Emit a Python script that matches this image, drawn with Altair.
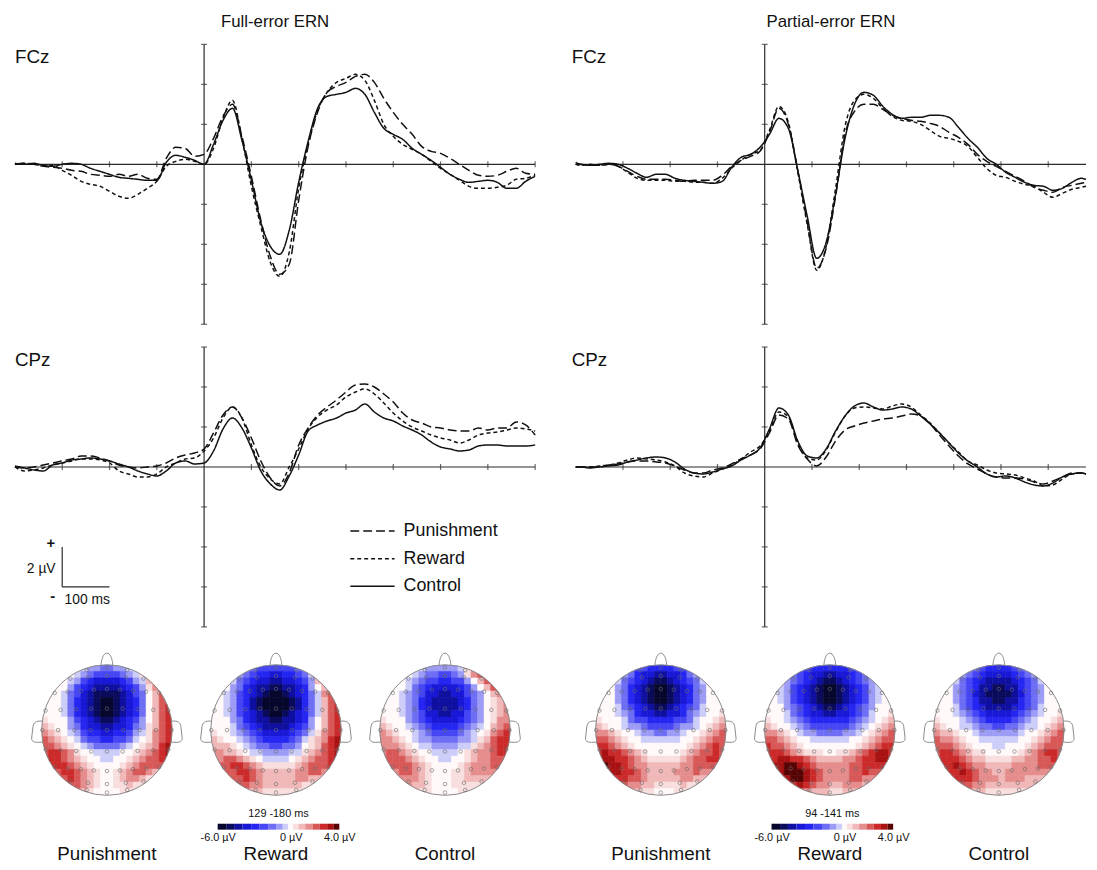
import math
import altair as alt
import pandas as pd

FONT = "Liberation Sans, Arial, Helvetica, sans-serif"
INK = "#111111"
AXIS_INK = "#2a2a2a"

CONDITIONS = ["Punishment", "Reward", "Control"]
DASHES = [[9, 4], [4, 3], [1, 0]]

# ---------------- ERP waveforms (µV) ----------------
t_full = list(range(-400, 701, 20))
t_part = [-400] + list(range(-390, 671, 20)) + [680]

fcz_full_pun = [0.0, 0.05, 0.0, -0.1, -0.15, -0.2, -0.3, -0.35, -0.5, -0.55, -0.6, -0.5, -0.6, -0.5, -0.7, -0.75,
                0.3, 0.85, 0.8, 0.4, 0.5, 1.3, 2.4, 3.0, 1.4, -0.6, -2.8, -4.6, -5.5, -5.0, -1.8, 0.9, 2.6, 3.6,
                3.9, 4.1, 4.4, 4.5, 4.1, 3.3, 2.6, 2.0, 1.5, 0.9, 0.65, 0.55, 0.3, 0.0, -0.3, -0.55, -0.6, -0.55,
                -0.35, -0.2, -0.45, -0.5]
fcz_full_rew = [0.0, 0.05, 0.0, -0.05, -0.05, -0.3, -0.55, -0.85, -1.0, -1.1, -1.35, -1.6, -1.7, -1.5, -1.2, -0.85,
                -0.1, 0.15, 0.25, 0.15, 0.0, 0.8, 2.3, 3.2, 1.3, -1.1, -3.1, -4.9, -5.6, -4.4, -1.2, 1.0, 2.7, 3.6,
                4.1, 4.3, 4.5, 4.2, 3.2, 2.0, 1.4, 1.0, 0.75, 0.5, 0.15, -0.2, -0.5, -0.8, -1.1, -1.2, -1.2, -1.15,
                -1.05, -0.75, -0.7, -0.55]
fcz_full_ctl = [0.05, 0.0, 0.05, -0.05, -0.1, 0.0, 0.05, 0.0, -0.2, -0.35, -0.5, -0.65, -0.7, -0.75, -0.8, -0.8,
                0.1, 0.45, 0.35, 0.2, 0.0, 1.0, 2.2, 2.8, 1.2, -0.8, -2.9, -4.1, -4.5, -3.3, -0.9, 1.15, 2.8, 3.4,
                3.5, 3.6, 3.8, 3.5, 2.6, 1.8, 1.5, 1.25, 0.8, 0.5, 0.2, -0.15, -0.5, -0.75, -0.9, -0.85, -0.8, -0.9,
                -1.2, -1.2, -0.85, -0.6]

cpz_full_pun = [0.0, -0.05, 0.0, 0.1, 0.2, 0.3, 0.4, 0.55, 0.55, 0.45, 0.3, 0.1, 0.0, -0.05, 0.0, 0.05, 0.2, 0.45,
                0.6, 0.7, 0.9, 1.7, 2.6, 3.0, 2.45, 1.45, 0.3, -0.55, -0.95, -0.3, 1.1, 1.95, 2.6, 3.0, 3.35, 3.75,
                4.1, 4.15, 4.0, 3.65, 3.25, 2.7, 2.35, 2.2, 2.0, 1.95, 1.85, 1.8, 1.8, 1.95, 1.85, 1.95, 1.95, 2.25,
                2.1, 1.6]
cpz_full_rew = [0.0, -0.2, -0.15, -0.05, 0.1, 0.2, 0.3, 0.4, 0.4, 0.35, 0.2, -0.2, -0.35, -0.5, -0.5, -0.35, 0.0,
                0.2, 0.4, 0.45, 0.8, 1.45, 2.45, 3.0, 2.45, 1.1, 0.0, -0.6, -0.85, 0.0, 0.9, 1.9, 2.5, 2.85, 3.1,
                3.5, 3.75, 3.9, 3.65, 3.2, 2.7, 2.3, 2.0, 1.8, 1.6, 1.45, 1.35, 1.2, 1.35, 1.6, 1.7, 1.75, 1.85,
                1.95, 1.9, 1.8]
cpz_full_ctl = [0.05, -0.05, -0.15, -0.2, 0.1, 0.2, 0.35, 0.4, 0.45, 0.4, 0.3, 0.15, 0.0, -0.2, -0.35, -0.45, -0.2,
                0.2, 0.3, 0.15, 0.2, 0.8, 1.9, 2.45, 1.95, 0.95, -0.2, -0.85, -1.15, -0.45, 0.6, 1.8, 2.1, 2.3, 2.45,
                2.7, 2.85, 3.15, 2.75, 2.45, 2.3, 2.05, 1.85, 1.6, 1.25, 1.0, 0.9, 0.8, 0.85, 1.05, 1.1, 1.1, 1.05,
                1.05, 1.05, 1.1]

pfcz_pun = [0.0, 0.0, -0.05, -0.05, 0.0, -0.1, -0.35, -0.6, -0.75, -0.75, -0.75, -0.8, -0.85, -0.8, -0.8, -0.8,
            -0.55, -0.1, 0.2, 0.4, 0.65, 1.6, 2.8, 2.0, -0.3, -2.9, -5.2, -4.2, -1.6, 1.5, 2.65, 3.0, 3.0, 2.75,
            2.45, 2.3, 2.2, 2.15, 2.05, 1.9, 1.6, 1.35, 1.0, 0.5, 0.15, -0.1, -0.35, -0.6, -0.85, -1.15, -1.3, -1.4,
            -1.15, -1.05, -0.95, -0.9]
pfcz_rew = [0.0, -0.05, 0.0, -0.05, 0.0, -0.1, -0.4, -0.7, -0.8, -0.8, -0.8, -0.85, -0.85, -0.9, -0.9, -0.95, -0.7,
            -0.2, 0.2, 0.5, 0.7, 1.7, 2.9, 2.1, -0.4, -3.0, -5.3, -4.1, -1.2, 1.9, 3.2, 3.5, 3.3, 2.8, 2.4, 2.2,
            2.15, 2.0, 1.7, 1.4, 1.3, 1.15, 0.9, 0.35, -0.2, -0.55, -0.65, -0.85, -1.0, -1.1, -1.4, -1.65, -1.45,
            -1.25, -1.15, -1.1]
pfcz_ctl = [0.1, 0.0, -0.05, 0.0, 0.05, 0.0, -0.2, -0.45, -0.65, -0.5, -0.5, -0.7, -0.8, -0.85, -0.9, -0.95, -0.85,
            -0.15, 0.35, 0.5, 0.85, 1.5, 2.3, 1.8, -0.3, -2.6, -4.7, -3.9, -1.5, 1.3, 3.0, 3.6, 3.45, 2.9, 2.5, 2.3,
            2.35, 2.35, 2.45, 2.45, 2.35, 1.85, 1.3, 0.85, 0.3, 0.0, -0.4, -0.65, -0.9, -1.05, -1.1, -1.3, -1.2,
            -0.9, -0.7, -0.75]

pcpz_pun = [0.0, 0.0, 0.0, 0.0, 0.1, 0.15, 0.25, 0.3, 0.3, 0.25, 0.2, 0.05, -0.15, -0.3, -0.3, -0.15, -0.05, 0.15,
            0.4, 0.6, 0.9, 1.7, 2.6, 2.4, 1.1, 0.4, 0.05, 0.5, 1.3, 1.85, 2.05, 2.2, 2.3, 2.4, 2.45, 2.55, 2.65,
            2.55, 2.15, 1.6, 1.05, 0.55, 0.15, -0.1, -0.35, -0.5, -0.55, -0.55, -0.6, -0.75, -0.85, -0.7, -0.5,
            -0.3, -0.3, -0.35]
pcpz_rew = [0.0, 0.0, 0.0, 0.05, 0.1, 0.2, 0.35, 0.45, 0.4, 0.35, 0.25, 0.05, -0.3, -0.45, -0.5, -0.3, -0.1, 0.1,
            0.4, 0.75, 1.05, 1.8, 2.75, 2.5, 1.2, 0.45, 0.35, 0.85, 1.75, 2.55, 2.95, 3.0, 2.95, 2.9, 3.05, 3.15,
            3.0, 2.6, 2.2, 1.7, 1.2, 0.75, 0.3, 0.1, -0.15, -0.3, -0.35, -0.4, -0.55, -0.7, -0.95, -0.9, -0.6,
            -0.35, -0.3, -0.35]
pcpz_ctl = [0.0, 0.0, -0.05, 0.0, 0.05, 0.1, 0.25, 0.35, 0.45, 0.5, 0.45, 0.25, -0.1, -0.3, -0.35, -0.25, -0.1,
            0.05, 0.35, 0.6, 0.95, 1.9, 2.95, 2.6, 1.3, 0.55, 0.45, 0.9, 1.8, 2.55, 3.05, 3.2, 3.0, 2.85, 2.9, 3.0,
            2.9, 2.55, 2.15, 1.7, 1.2, 0.7, 0.3, 0.0, -0.35, -0.5, -0.45, -0.55, -0.75, -0.9, -0.95, -0.8, -0.5,
            -0.35, -0.3, -0.35]

# ---------------- topographic maps (contour band codes on a 20x20 grid) ----------------
LEVEL_CODES = "9876543210abcdefg"
LEVEL_VALUES = [-5.6, -5.0, -4.3, -3.6, -2.9, -2.2, -1.5, -0.9, -0.4, 0.0, 0.4, 0.9, 1.5, 2.1, 2.7, 3.3, 3.8]
LEVEL_COLORS = ["#07072e", "#0b0b5c", "#1010a0", "#1818d6", "#2626f2", "#4646f4", "#6e6ef4", "#9c9cf6",
                "#cdcdfa", "#ffffff", "#f8dede", "#f0b8b8", "#e58c8c", "#d85858", "#cc2a2a", "#a81212", "#560404"]

topo_full_pun = [
    "00000012233221000000", "000001234444321abbbb", "0000124566665421bccc", "0000245677776542acdd",
    "00013467888876430bdd", "00013567899876530bdd", "00013567899876530bde", "00013567899876530bde",
    "a0002456788765420bde", "ba00235667766532abde", "cba0124556655421acde", "dcba013445544310acde",
    "ddcba0123333210abcef", "deedca00111100abcdef", "deedcba001100abcddee", "deeedcba0000abcddddc",
    "dddeedcba00abcddcbbb", "ddddedcba00abccbaaaa", "ddddddcba00aabaaaaaa", "ccccccba0000aaaaaaaa"]
topo_full_rew = [
    "00001234444443210000", "0000234556655431abbb", "0001345667766542bccc", "00023567788776520bdd",
    "00124567899876531cde", "00124578999987531bde", "00124578999987531bde", "00124567899876531bde",
    "00023567788776520bde", "00013456777765420bde", "a001234566665431acde", "ba0012345555431abcef",
    "bbba01233443320abdef", "ccbba011222211abcdef", "ccddcba011110abcddef", "dddeedcbaaaaabcdddee",
    "ddddeedcbbbbbccddccc", "dddddedcbbbbbccbbbbb", "ddddddccbbbbbbaaaaaa", "ccccccbbaaaaaaaaaaaa"]
topo_full_ctl = [
    "0000001222221abbbbbb", "0000012334432acddddd", "000012344554420bdddd", "0000134566665420bddd",
    "00012346677664320bcd", "00012356777765320abc", "00012356777765320abc", "00012346677664320abc",
    "a0002345666654320acc", "ba001234555543210bcd", "cba0012344443210acde", "ccba01223333221abdee",
    "cccba011222211abcdee", "cddcba0011110abccdee", "cdddcba001100abccddd", "dddddcba0000abcccddd",
    "cccddcba000aabcccccc", "ccccccba000aabbbbbbb", "cccccbba000aaaaaaaaa", "bbbbbbaa0000aaaaaaaa"]
topo_part_pun = [
    "00001344555544310000", "00012356677665321000", "00013456788765431000", "00023567899876532000",
    "00023567899876532000", "00023567899876532000", "00013456788765431000", "0001235667766532100a",
    "a00013445555443100ab", "ba001223444432210abc", "ccba001223322100abcd", "ddcba0011111100abcdd",
    "eedcba00000000abcded", "efeedcba00000abcdded", "effeedcbaaaaabcddeed", "fgffedccbbbbbccddddd",
    "ffffeedcbbbbcccdcccc", "eeeeeddcbbbbbccbbbbb", "dddddccbbaaaabaaaaaa", "ccccccbaa000aaaaaaaa"]
topo_part_rew = [
    "00012345555554321000", "00013456677665431000", "00023456788765432000", "00124567899876542100",
    "00124567899876542100", "00124567899876542100", "00023456788765432000", "0001345667766543100a",
    "a00123455555543210ab", "ba001234444443210abc", "ccba012233332210abcd", "ddcba0011111100abcdd",
    "eddcba00000000abcdee", "eeedcbaaa00aabcdeffe", "eeffeedcbbbbccdeeffe", "effggfedcccccddeeeee",
    "fffgggfedccccddedddd", "ffffggfedccccddccccc", "eeeeefedccbbcccbbbbb", "ddddddcbbbaabbbbbbbb"]
topo_part_ctl = [
    "00001234555543210000", "00012345666654321000", "00013456777765431000", "00023457788775432000",
    "00023467888876432000", "00023457788775432000", "00013456777765431000", "0001234566665432100a",
    "a00012345555432100ab", "ba001123344332110abc", "cbba001222222100abcd", "dccba0011111100abcdd",
    "dddcba00011000abcddd", "deedcbaa00000abcdeed", "eeeedcbbaaaabbccdded", "eeefedccbbbbccccdddd",
    "eeeefedccbbccccccccc", "eeeeeedcccbcccbbbbbb", "ddddddccbbbbbbbbbbbb", "ccccccbbaaaaaaaaaaaa"]

ELECTRODES = [
    (-0.31, 0.92), (0.0, 0.96), (0.31, 0.92),
    (-0.56, 0.79), (-0.29, 0.81), (0.0, 0.83), (0.29, 0.81), (0.56, 0.79),
    (-0.8, 0.57), (-0.6, 0.59), (-0.4, 0.6), (-0.2, 0.62), (0.0, 0.63), (0.2, 0.62), (0.4, 0.6), (0.6, 0.59), (0.8, 0.57),
    (-0.94, 0.3), (-0.71, 0.31), (-0.47, 0.32), (-0.24, 0.33), (0.0, 0.33), (0.24, 0.33), (0.47, 0.32), (0.71, 0.31), (0.94, 0.3),
    (-0.99, 0.0), (-0.75, 0.0), (-0.5, 0.0), (-0.25, 0.0), (0.0, 0.0), (0.25, 0.0), (0.5, 0.0), (0.75, 0.0), (0.99, 0.0),
    (-0.94, -0.3), (-0.71, -0.31), (-0.47, -0.32), (-0.24, -0.33), (0.0, -0.33), (0.24, -0.33), (0.47, -0.32), (0.71, -0.31), (0.94, -0.3),
    (-0.8, -0.57), (-0.6, -0.59), (-0.4, -0.6), (-0.2, -0.62), (0.0, -0.63), (0.2, -0.62), (0.4, -0.6), (0.6, -0.59), (0.8, -0.57),
    (-0.56, -0.79), (-0.29, -0.81), (0.0, -0.83), (0.29, -0.81), (0.56, -0.79),
    (-0.31, -0.92), (0.0, -0.96), (0.31, -0.92),
]

# ---------------- layout constants ----------------
ERP_H = 283
LEFT_W, RIGHT_W = 526, 516
FULL_MAX, PART_MAX = 700, 680

HEAD_STEP = 2.59
H_XDOM = [-1.41, 6.38]
H_YDOM = [-1.15, 1.25]
HEAD_W, HEAD_H = 514, 158
CB_LEFT_PX, CB_RIGHT_PX = 205, 328

NOSE = "M -1 1 C -0.9 -0.1 -0.55 -1 0 -1 C 0.55 -1 0.9 -0.1 1 1"
EAR_L = "M 0.35 -1 C -0.25 -1.05 -0.45 -0.85 -0.5 -0.5 L -0.62 0.55 C -0.66 0.95 -0.25 1 0.35 0.92"
EAR_R = "M -0.35 -1 C 0.25 -1.05 0.45 -0.85 0.5 -0.5 L 0.62 0.55 C 0.66 0.95 0.25 1 -0.35 0.92"

CSCALE = alt.Scale(domain=LEVEL_VALUES, range=LEVEL_COLORS, type="linear")


def erp_panel(times, pun, rew, ctl, xmax, width, site, title=None, legend=None,
              scalebar=False, site_dx=0):
    xs = alt.Scale(domain=[-400, xmax], nice=False, zero=False)
    ys = alt.Scale(domain=[-8, 6], nice=False, zero=False)

    def X(f):
        return alt.X(f, type="quantitative", scale=xs, axis=None)

    def Y(f):
        return alt.Y(f, type="quantitative", scale=ys, axis=None)

    df = pd.DataFrame({
        "t": list(times) * 3,
        "v": list(pun) + list(rew) + list(ctl),
        "cond": [c for c in CONDITIONS for _ in times],
    })
    lines = alt.Chart(df).mark_line(color=INK, strokeWidth=1.5, interpolate="monotone").encode(
        x=X("t"), y=Y("v"),
        strokeDash=alt.StrokeDash("cond:N", scale=alt.Scale(domain=CONDITIONS, range=DASHES),
                                  legend=legend),
    )
    hline = alt.Chart(pd.DataFrame({"t": [-400], "t2": [xmax], "v": [0]})).mark_rule(
        color=AXIS_INK, strokeWidth=1.2).encode(x=X("t"), x2="t2", y=Y("v"))
    vline = alt.Chart(pd.DataFrame({"t": [0], "v": [-8], "v2": [6]})).mark_rule(
        color=AXIS_INK, strokeWidth=1.2).encode(x=X("t"), y=Y("v"), y2="v2")
    xt = [t for t in range(-300, xmax + 1, 100) if t != 0]
    xticks = alt.Chart(pd.DataFrame({"t": xt, "v": [0] * len(xt)})).mark_tick(
        orient="vertical", size=6, thickness=1.2, color=AXIS_INK).encode(x=X("t"), y=Y("v"))
    yt = [-8, -6, -4, -2, 2, 4, 6]
    yticks = alt.Chart(pd.DataFrame({"t": [0] * len(yt), "v": yt})).mark_tick(
        orient="horizontal", size=6, thickness=1.2, color=AXIS_INK).encode(x=X("t"), y=Y("v"))
    lab = alt.Chart(pd.DataFrame({"t": [-400], "v": [5.35], "s": [site]})).mark_text(
        align="left", baseline="middle", fontSize=19, font=FONT, color=INK, dx=site_dx).encode(
        x=X("t"), y=Y("v"), text="s:N")
    layers = [hline, vline, xticks, yticks, lines, lab]
    if scalebar:
        bars = alt.Chart(pd.DataFrame({"t": [-300, -300], "t2": [-300, -200],
                                       "v": [-4, -6], "v2": [-6, -6]})).mark_rule(
            color=AXIS_INK, strokeWidth=1.2).encode(x=X("t"), x2="t2", y=Y("v"), y2="v2")
        plus = alt.Chart(pd.DataFrame({"t": [-324], "v": [-3.8], "s": ["+"]})).mark_text(
            fontSize=15, font=FONT, fontWeight="bold", color=INK, baseline="middle").encode(
            x=X("t"), y=Y("v"), text="s:N")
        minus = alt.Chart(pd.DataFrame({"t": [-320], "v": [-6.45], "s": ["-"]})).mark_text(
            fontSize=15, font=FONT, fontWeight="bold", color=INK, baseline="middle").encode(
            x=X("t"), y=Y("v"), text="s:N")
        uv = alt.Chart(pd.DataFrame({"t": [-314], "v": [-5.1], "s": ["2 µV"]})).mark_text(
            fontSize=14, font=FONT, color=INK, align="right", baseline="middle").encode(
            x=X("t"), y=Y("v"), text="s:N")
        ms = alt.Chart(pd.DataFrame({"t": [-247], "v": [-6.65], "s": ["100 ms"]})).mark_text(
            fontSize=14, font=FONT, color=INK, align="center", baseline="middle").encode(
            x=X("t"), y=Y("v"), text="s:N")
        layers += [bars, plus, minus, uv, ms]
    ch = alt.layer(*layers).properties(width=width, height=ERP_H)
    if title:
        ch = ch.properties(title=alt.TitleParams(text=title, fontSize=17, font=FONT, fontWeight="normal",
                                                 color=INK, offset=13, anchor="middle"))
    return ch


def head_group(grids, window):
    xs = alt.Scale(domain=H_XDOM, nice=False, zero=False)
    ys = alt.Scale(domain=H_YDOM, nice=False, zero=False)

    def X(f):
        return alt.X(f, type="quantitative", scale=xs, axis=None)

    def Y(f):
        return alt.Y(f, type="quantitative", scale=ys, axis=None)

    code_val = dict(zip(LEVEL_CODES, LEVEL_VALUES))
    cells = []
    for k, grid in enumerate(grids):
        cx = k * HEAD_STEP
        for r, row in enumerate(grid):
            row = (row + "0" * 20)[:20]
            for c, ch in enumerate(row):
                u0 = -1 + 0.1 * c
                w0 = 1 - 0.1 * r
                if (u0 + 0.05) ** 2 + (w0 - 0.05) ** 2 > 1.12 ** 2:
                    continue
                cells.append({"x": cx + u0, "x2": cx + u0 + 0.1, "y": w0, "y2": w0 - 0.1,
                              "uv": code_val.get(ch, 0.0)})
    cells = pd.DataFrame(cells)
    centers = pd.DataFrame({"cx": [k * HEAD_STEP for k in range(3)], "cy": [0.0] * 3})

    rects = alt.Chart(cells).mark_rect(strokeWidth=0.6).encode(
        x=X("x"), x2="x2", y=Y("y"), y2="y2",
        color=alt.Color("uv:Q", scale=CSCALE, legend=None),
        stroke=alt.Stroke("uv:Q", scale=CSCALE, legend=None),
    )
    mask = alt.Chart(centers).mark_arc(radius=78, radius2=66.3, theta=0, theta2=2 * math.pi,
                                       color="white").encode(x=X("cx"), y=Y("cy"))
    outline = alt.Chart(centers).mark_point(shape="circle", filled=False, size=132 ** 2, color="#8a8a8a",
                                            strokeWidth=1.0, opacity=1).encode(x=X("cx"), y=Y("cy"))
    nose_df = pd.DataFrame({"cx": centers["cx"], "cy": [1.09] * 3})
    nose = alt.Chart(nose_df).mark_point(shape=NOSE, filled=False, size=144, color="#8a8a8a",
                                         strokeWidth=1.0, opacity=1).encode(x=X("cx"), y=Y("cy"))
    earl_df = pd.DataFrame({"cx": centers["cx"] - 1.05, "cy": [-0.03] * 3})
    earr_df = pd.DataFrame({"cx": centers["cx"] + 1.05, "cy": [-0.03] * 3})
    earl = alt.Chart(earl_df).mark_point(shape=EAR_L, filled=False, size=484, color="#8a8a8a",
                                         strokeWidth=1.0, opacity=1).encode(x=X("cx"), y=Y("cy"))
    earr = alt.Chart(earr_df).mark_point(shape=EAR_R, filled=False, size=484, color="#8a8a8a",
                                         strokeWidth=1.0, opacity=1).encode(x=X("cx"), y=Y("cy"))
    el = pd.DataFrame([{"ex": k * HEAD_STEP + ex, "ey": ey} for k in range(3) for ex, ey in ELECTRODES])
    elec = alt.Chart(el).mark_point(shape="circle", filled=False, size=13, color="#6a6a6a",
                                    strokeWidth=0.6, opacity=1).encode(x=X("ex"), y=Y("ey"))
    heads = alt.layer(rects, mask, outline, nose, earl, earr, elec).properties(width=HEAD_W, height=HEAD_H)

    # colour bar
    k = (CB_RIGHT_PX - CB_LEFT_PX) / 10.0
    cb_dom = [-6 - CB_LEFT_PX / k, 4 + (HEAD_W - CB_RIGHT_PX) / k]
    cbxs = alt.Scale(domain=cb_dom, nice=False, zero=False)
    bounds = [-6.0] + [(a + b) / 2 for a, b in zip(LEVEL_VALUES[:-1], LEVEL_VALUES[1:])] + [4.0]
    cb = pd.DataFrame({"lo": bounds[:-1], "hi": bounds[1:], "uv": LEVEL_VALUES})
    cb_axis = alt.Axis(values=[-6, 0, 4], domain=False, ticks=False, grid=False, labelPadding=2,
                       labelFontSize=11, labelFont=FONT, labelColor=INK, title=None,
                       labelExpr="datum.value == 0 ? '0 µV' : replace(format(datum.value, '.1f'), '−', '-') + ' µV'")
    cbar_rect = alt.Chart(cb).mark_rect().encode(
        x=alt.X("lo:Q", scale=cbxs, axis=cb_axis), x2="hi:Q",
        y=alt.value(12), y2=alt.value(18),
        color=alt.Color("uv:Q", scale=CSCALE, legend=None),
    )
    cbar_txt = alt.Chart(pd.DataFrame({"x": [-1.0], "s": [window]})).mark_text(
        fontSize=11, font=FONT, color=INK, baseline="middle").encode(
        x=alt.X("x:Q", scale=cbxs, axis=cb_axis), y=alt.value(2), text="s:N")
    cbar = alt.layer(cbar_rect, cbar_txt).properties(width=HEAD_W, height=18)

    labels = alt.Chart(pd.DataFrame({"x": [k2 * HEAD_STEP for k2 in range(3)], "s": CONDITIONS})).mark_text(
        fontSize=19, font=FONT, color=INK, baseline="middle").encode(
        x=X("x"), y=alt.value(12), text="s:N").properties(width=HEAD_W, height=18)

    return alt.vconcat(heads, cbar, labels, spacing=0)


legend = alt.Legend(orient="none", legendX=338, legendY=176, title=None, symbolType="stroke",
                    symbolSize=2000, symbolStrokeWidth=1.5, symbolStrokeColor=INK, labelFontSize=18,
                    labelFont=FONT, labelColor=INK, clipHeight=20, rowPadding=8, labelOffset=8)

p1 = erp_panel(t_full, fcz_full_pun, fcz_full_rew, fcz_full_ctl, FULL_MAX, LEFT_W, "FCz",
               title="Full-error ERN")
p2 = erp_panel(t_part, pfcz_pun, pfcz_rew, pfcz_ctl, PART_MAX, RIGHT_W, "FCz",
               title="Partial-error ERN", site_dx=-4)
p3 = erp_panel(t_full, cpz_full_pun, cpz_full_rew, cpz_full_ctl, FULL_MAX, LEFT_W, "CPz",
               legend=legend, scalebar=True)
p4 = erp_panel(t_part, pcpz_pun, pcpz_rew, pcpz_ctl, PART_MAX, RIGHT_W, "CPz", site_dx=-4)

row1 = alt.hconcat(p1, p2, spacing=34)
row2 = alt.hconcat(p3, p4, spacing=34).resolve_legend(strokeDash="independent")
row3 = alt.hconcat(head_group([topo_full_pun, topo_full_rew, topo_full_ctl], "129 -180 ms"),
                   head_group([topo_part_pun, topo_part_rew, topo_part_ctl], "94 -141 ms"),
                   spacing=46)

chart = alt.vconcat(row1, row2, row3, spacing=21).resolve_legend(strokeDash="independent").properties(
    padding={"left": 4, "top": 0, "right": 0, "bottom": 0},
    background="white",
).configure_view(stroke=None, strokeWidth=0)

chart.save("out.html", embed_options={"renderer": "svg", "actions": False})
